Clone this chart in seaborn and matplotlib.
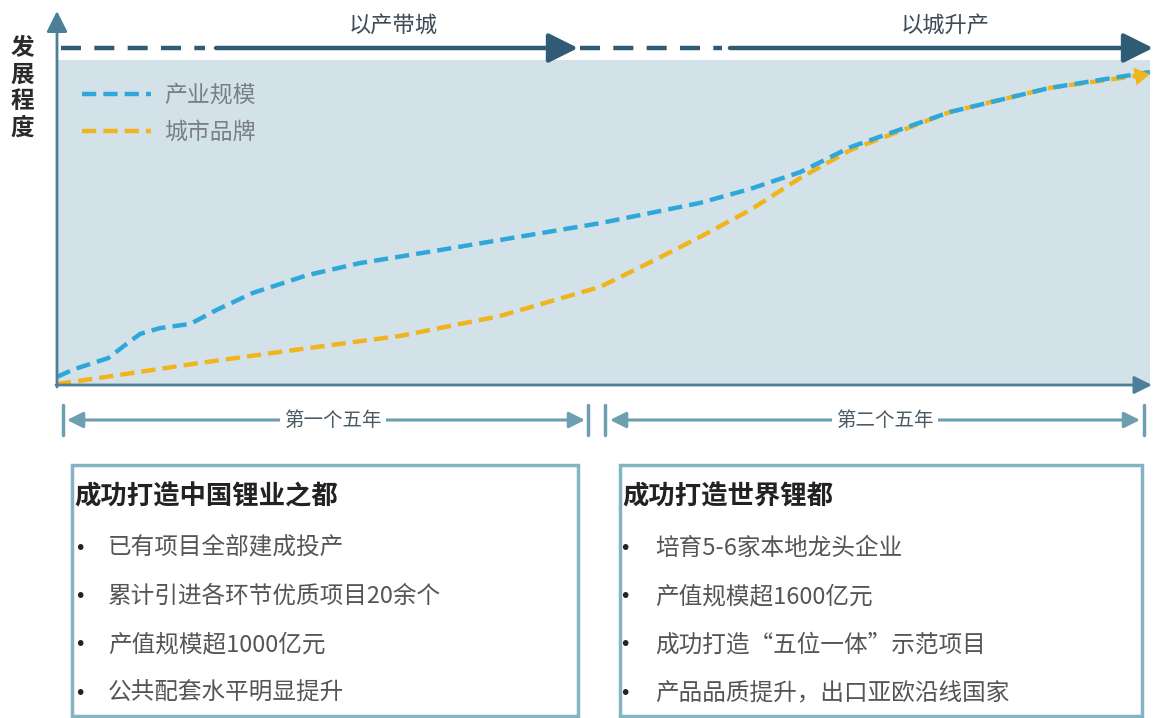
import matplotlib
matplotlib.use('Agg')
import matplotlib.pyplot as plt
import seaborn as sns
import pandas as pd
from matplotlib.patches import Rectangle, FancyArrowPatch
from matplotlib.lines import Line2D

sns.set_theme(style='white')
plt.rcParams['font.family'] = ['Noto Sans CJK SC', 'DejaVu Sans']

# ---------------- data ----------------
industry_x = [0, 0.16, 0.47, 0.60, 0.76, 0.94, 1.22, 1.46, 1.79, 2.29, 2.77, 3.50,
              4.05, 4.97, 5.88, 6.34, 6.80, 7.26, 8.17, 9.08, 10.0]
industry_y = [2.5, 4.9, 8.3, 11.7, 15.7, 17.5, 18.8, 23.1, 28.3, 33.8, 37.5, 41.5,
              44.6, 49.8, 56.0, 60.3, 65.5, 73.2, 84.0, 91.4, 96.3]
brand_x = [0, 0.39, 1.31, 2.22, 3.14, 4.05, 4.97, 5.43, 5.88, 6.34, 6.80, 7.26,
           8.17, 9.08, 10.0]
brand_y = [0.3, 2.2, 6.8, 11.0, 15.1, 21.2, 30.2, 37.8, 45.5, 53.8, 63.7, 72.3,
           84.0, 91.4, 95.7]
series_labels = ['产业规模', '城市品牌']
y_label = '发展程度'
phase_labels = ['以产带城', '以城升产']
period_labels = ['第一个五年', '第二个五年']
box_titles = ['成功打造中国锂业之都', '成功打造世界锂都']
box1_items = ['已有项目全部建成投产', '累计引进各环节优质项目20余个',
              '产值规模超1000亿元', '公共配套水平明显提升']
box2_items = ['培育5-6家本地龙头企业', '产值规模超1600亿元',
              '成功打造“五位一体”示范项目', '产品品质提升，出口亚欧沿线国家']

W, H = 1153, 718
BLUE = '#2fa7da'
ORANGE = '#f0b51e'
SHADE = '#d3e2e9'
DARK = '#2f5c74'
AXC = '#4d7f98'
PERIOD = '#6d9fb1'
BOXC = '#82b4c4'


def fp(x, y):
    return (x / W, 1 - y / H)


fig = plt.figure(figsize=(W / 100, H / 100), dpi=100)
fig.patch.set_facecolor('white')
ax = fig.add_axes([57 / W, 1 - 385 / H, (1150 - 57) / W, (385 - 60) / H])
ax.set_facecolor(SHADE)
for s in ax.spines.values():
    s.set_visible(False)

df_i = pd.DataFrame({'x': industry_x, 'y': industry_y})
df_b = pd.DataFrame({'x': brand_x, 'y': brand_y})
sns.lineplot(data=df_b, x='x', y='y', ax=ax, color=ORANGE, linewidth=3.2,
             label=series_labels[1], clip_on=False)
sns.lineplot(data=df_i, x='x', y='y', ax=ax, color=BLUE, linewidth=3.2,
             label=series_labels[0], clip_on=False)
for ln in ax.lines:
    ln.set_dashes([3.2, 1.6])
    ln.set_solid_capstyle('butt')

# arrowhead at end of brand curve
ax.annotate('', xy=(brand_x[-1], brand_y[-1]), xytext=(brand_x[-2] + 0.7, brand_y[-2] + 3.0),
            arrowprops=dict(arrowstyle='-|>,head_length=0.6,head_width=0.35', color=ORANGE,
                            lw=0.1, mutation_scale=18, shrinkA=0, shrinkB=0),
            annotation_clip=False)

ax.set_xlim(0, 10)
ax.set_ylim(0, 100)
ax.set_xticks([])
ax.set_yticks([])
ax.set_xlabel('')
ax.set_ylabel('')

handles, labels = ax.get_legend_handles_labels()
leg = ax.legend([handles[1], handles[0]], [labels[1], labels[0]], loc='upper left',
                bbox_to_anchor=(0.004, 0.99), frameon=False, fontsize=16.5,
                handlelength=3.0, labelspacing=0.62, handletextpad=0.6)
for t in leg.get_texts():
    t.set_color('#7a7f84')

# axes arrows
fig.add_artist(FancyArrowPatch(fp(57, 387), fp(57, 11), transform=fig.transFigure,
                               arrowstyle='-|>,head_length=0.7,head_width=0.35',
                               mutation_scale=18, color=AXC, lw=2, shrinkA=0, shrinkB=0))
fig.add_artist(FancyArrowPatch(fp(56, 385), fp(1152, 385), transform=fig.transFigure,
                               arrowstyle='-|>,head_length=0.6,head_width=0.3',
                               mutation_scale=18, color=AXC, lw=2, shrinkA=0, shrinkB=0))

# top phase arrows
yt = 48
for (d0, d1, s0, s1) in [(61, 205, 216, 578), (580, 722, 730, 1153)]:
    x0, y0 = fp(d0, yt)
    x1, _ = fp(d1, yt)
    fig.add_artist(Line2D([x0, x1], [y0, y0], transform=fig.transFigure, color=DARK,
                          lw=3.2, linestyle=(0, (4.5, 3.0))))
    fig.add_artist(FancyArrowPatch(fp(s0, yt), fp(s1, yt), transform=fig.transFigure,
                                   arrowstyle='-|>,head_length=1.0,head_width=0.5',
                                   mutation_scale=18, color=DARK, lw=3.2,
                                   shrinkA=0, shrinkB=0))
fig.text(*fp(393, 25), phase_labels[0], ha='center', va='center', fontsize=16,
         color='#3b4a55')
fig.text(*fp(945, 25), phase_labels[1], ha='center', va='center', fontsize=16,
         color='#3b4a55')

# y label
fig.text(*fp(22, 88), '\n'.join(y_label), ha='center', va='center', fontsize=17,
         fontweight='bold', color='#2a2a2a', linespacing=1.12)

# period markers
yp = 420
for bx in [63, 588, 605, 1144]:
    xb, ya = fp(bx, 405)
    _, yb = fp(bx, 435)
    fig.add_artist(Line2D([xb, xb], [ya, yb], transform=fig.transFigure, color=PERIOD, lw=2.5))
for (a0, a1, lab, tc) in [(67, 585, period_labels[0], 333), (610, 1140, period_labels[1], 885)]:
    fig.add_artist(FancyArrowPatch(fp(a0, yp), fp(a1, yp), transform=fig.transFigure,
                                   arrowstyle='<|-|>,head_length=0.6,head_width=0.3',
                                   mutation_scale=16, color=PERIOD, lw=2.2,
                                   shrinkA=0, shrinkB=0))
    fig.text(*fp(tc, yp), lab, ha='center', va='center',
             fontsize=14, color='#4a5a64', style='italic',
             bbox=dict(facecolor='white', edgecolor='none', pad=3))

# boxes
for (l, r, title, items, bx, tx) in [(72, 578, box_titles[0], box1_items, 80, 108),
                                      (620, 1142, box_titles[1], box2_items, 625, 655)]:
    x0, y0 = fp(l, 716)
    x1, y1 = fp(r, 465)
    fig.add_artist(Rectangle((x0, y0), x1 - x0, y1 - y0, transform=fig.transFigure,
                             facecolor='none', edgecolor=BOXC, lw=2.5))
    fig.text(*fp(l + 2, 497), title, ha='left', va='center', fontsize=19,
             fontweight='bold', color='#222222')
    for i, it in enumerate(items):
        yy = 548 + i * 48.5
        fig.text(*fp(bx, yy), '•', ha='center', va='center', fontsize=14,
                 color='#222222', family='DejaVu Sans')
        fig.text(*fp(tx, yy), it, ha='left', va='center', fontsize=17, color='#555555')

fig.savefig('out.png', dpi=100, facecolor='white')
